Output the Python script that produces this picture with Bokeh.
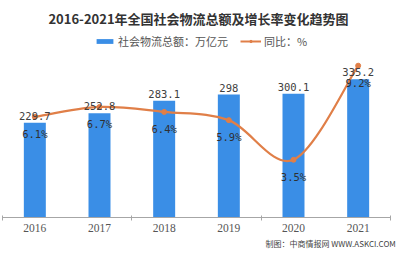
import numpy as np
from bokeh.plotting import figure
from bokeh.models import (Range1d, LinearAxis, FixedTicker, Label, Legend, LegendItem,
                          ColumnDataSource, Title)
from bokeh.core.properties import value
from bokeh.embed import file_html
from bokeh.resources import INLINE

years = ["2016", "2017", "2018", "2019", "2020", "2021"]
totals = [229.7, 252.8, 283.1, 298, 300.1, 335.2]
growth = [6.1, 6.7, 6.4, 5.9, 3.5, 9.2]

title_text = "2016-2021年全国社会物流总额及增长率变化趋势图"
bar_name = "社会物流总额：万亿元"
line_name = "同比：%"
source_text = "制图：中商情报网 WWW.ASKCI.COM"

BLUE = "#3a8ee6"
ORANGE = "#e07f48"
CJK = "Noto Sans CJK SC"

W, H = 400, 260
FRAME_H = 217          # frame spans from the top of the canvas to the axis
PLOT_TOP = 52          # where the data's top (400 / 10 %) lies
bar_max, pct_max = 400, 10
bar_top = bar_max * FRAME_H / (FRAME_H - PLOT_TOP)
pct_top = pct_max * FRAME_H / (FRAME_H - PLOT_TOP)

p = figure(width=W, height=H, output_backend="svg", toolbar_location=None,
           x_range=Range1d(-0.5, 5.5), y_range=Range1d(0, bar_top),
           y_axis_location=None, x_axis_location=None,
           min_border_left=2, min_border_right=10, min_border_top=0,
           min_border_bottom=H - FRAME_H)
p.extra_y_ranges = {"pct": Range1d(0, pct_top)}
p.xgrid.grid_line_color = None
p.ygrid.grid_line_color = None
p.outline_line_color = None
p.background_fill_color = "white"
p.border_fill_color = "white"

xs = list(range(len(years)))
src = ColumnDataSource(dict(
    x=xs, total=totals, g=growth,
    tlab=["%g" % v for v in totals],
    glab=["%g%%" % v for v in growth],
))

bars = p.vbar(x="x", top="total", width=0.34, source=src, fill_color=BLUE,
              line_color=None)

# smoothed line (Catmull-Rom -> cubic bezier, control points from the data)
n = len(xs)
bx0, by0, bx1, by1, c0x, c0y, c1x, c1y = [], [], [], [], [], [], [], []
for i in range(n - 1):
    a = max(i - 1, 0)
    d = min(i + 2, n - 1)
    bx0.append(xs[i]); by0.append(growth[i])
    bx1.append(xs[i + 1]); by1.append(growth[i + 1])
    c0x.append(xs[i] + (xs[i + 1] - xs[a]) / 6)
    c0y.append(growth[i] + (growth[i + 1] - growth[a]) / 6)
    c1x.append(xs[i + 1] - (xs[d] - xs[i]) / 6)
    c1y.append(growth[i + 1] - (growth[d] - growth[i]) / 6)
p.bezier(x0=bx0, y0=by0, x1=bx1, y1=by1, cx0=c0x, cy0=c0y, cx1=c1x, cy1=c1y,
         line_color=ORANGE, line_width=2.2, y_range_name="pct")
dots = p.scatter(x="x", y="g", source=src, size=5, fill_color=ORANGE,
                 line_color=ORANGE, y_range_name="pct")
legline = p.line(x=[0, 1], y=[-50, -50], line_color=ORANGE, line_width=2,
                 y_range_name="pct")

# value labels
p.text(x="x", y="total", text="tlab", source=src, text_align="center",
       text_baseline="bottom", y_offset=-3, text_font=value("DejaVu Sans Mono"),
       text_font_size="10.5px", text_color="#404040")
p.text(x="x", y="g", text="glab", source=src, text_align="center",
       text_baseline="middle", y_offset=17, y_range_name="pct",
       text_font=value("DejaVu Sans Mono"), text_font_size="10.5px",
       text_color="#303030")

# x axis
ax = LinearAxis(ticker=FixedTicker(ticks=xs, minor_ticks=[-0.5, 1.5, 3.5, 5.5]))
ax.major_label_overrides = {i: y for i, y in enumerate(years)}
ax.axis_line_color = "#a6a6a6"
ax.major_tick_line_color = None
ax.major_tick_out = 0
ax.minor_tick_line_color = "#a6a6a6"
ax.minor_tick_out = 3
ax.minor_tick_in = 2
ax.major_label_standoff = 3
ax.major_label_text_font = "Liberation Serif"
ax.major_label_text_font_size = "11.5px"
ax.major_label_text_color = "#555555"
p.add_layout(ax, "below")

# source note under the axis
p.add_layout(Title(text=source_text, align="left", offset=263, standoff=3,
                   text_font=CJK, text_font_size="8px", text_font_style="normal",
                   text_color="#444444"), "below")

# legend
legend = Legend(items=[LegendItem(label=bar_name, renderers=[bars]),
                       LegendItem(label=line_name, renderers=[legline, dots])],
                orientation="horizontal", location=(92, FRAME_H - 49),
                glyph_width=21, glyph_height=6, label_height=12,
                label_standoff=3, spacing=12, padding=0, margin=0,
                border_line_color=None, background_fill_alpha=0,
                label_text_font=CJK, label_text_font_size="11px",
                label_text_color="#555555")
p.add_layout(legend, "center")

p.add_layout(Label(x=W / 2 - 4, y=FRAME_H - 18, x_units="screen", y_units="screen",
                   text=title_text, text_align="center", text_baseline="middle",
                   text_font=CJK, text_font_style="bold", text_font_size="13px",
                   text_color="#333333"))

open("out.html", "w").write(file_html(p, INLINE))
